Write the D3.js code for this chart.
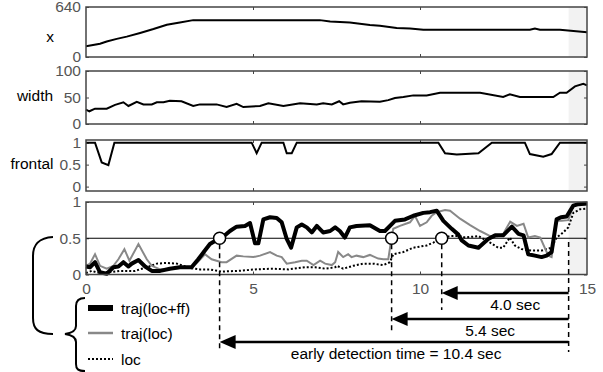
<!DOCTYPE html>
<html>
<head>
<meta charset="utf-8">
<script src="https://cdn.jsdelivr.net/npm/d3@7/dist/d3.min.js"></script>
<style>
  body { margin: 0; background: #fff; }
  svg { display: block; font-family: "Liberation Sans", Arial, sans-serif; }
  .tick text { fill: #555; font-size: 15.5px; }
  .tick line { stroke: #444; }
  .domain { display: none; }
</style>
</head>
<body>
<div id="chart"></div>
<script>
// x axis ticks (seconds)
var timeTicks = [0, 5, 10, 15];

// panel 1 : x position of the face
var posT = [0, 0.42, 0.62, 0.92, 1.22, 1.62, 2.02, 2.42, 2.81, 3.21, 7.0, 7.31, 7.9, 8.5, 8.8, 9.3, 9.7, 10.1, 13.29, 13.44, 13.59, 14.19, 15];
var posV = [139, 169, 198, 232, 261, 308, 358, 413, 442, 472, 472, 455, 442, 409, 400, 371, 366, 350, 350, 366, 350, 350, 316];

// panel 2 : width
var widthT = [0, 0.1, 0.27, 0.62, 0.87, 1.12, 1.27, 1.52, 1.72, 1.97, 2.12, 2.32, 2.51, 2.86, 3.21, 3.41, 3.91, 4.21, 4.51, 4.71, 5.21, 5.46, 5.91, 6.41, 6.91, 7.1, 7.36, 7.58, 7.7, 7.9, 8.25, 8.8, 9.05, 9.25, 9.5, 9.8, 10.2, 10.6, 11.8, 12.49, 12.69, 12.99, 13.99, 14.19, 14.39, 14.64, 14.89, 15];
var widthV = [27, 24, 29, 29, 36, 41, 34, 42, 37, 37, 41, 41, 44, 43, 34, 37, 37, 32, 38, 32, 34, 39, 34, 39, 37, 39, 37, 43, 37, 40, 43, 42, 45, 49, 51, 54, 54, 59, 59, 51, 56, 51, 51, 59, 59, 71, 76, 73];

// panel 3 : frontal
var frontalT = [0, 0.27, 0.47, 0.67, 0.85, 4.96, 5.11, 5.26, 5.91, 6.01, 6.16, 6.31, 10.55, 10.75, 11.1, 11.75, 12.15, 13.14, 13.29, 13.69, 13.94, 14.19, 15];
var frontalV = [1, 1, 0.55, 0.49, 1, 1, 0.76, 1, 1, 0.76, 0.76, 1, 1, 0.76, 0.73, 0.76, 1, 1, 0.74, 0.68, 0.74, 1, 1];

// panel 4 : traj(loc+ff)
var trajFfT = [0, 0.12, 0.27, 0.42, 0.62, 0.82, 0.97, 1.12, 1.27, 1.37, 1.57, 1.77, 1.97, 2.22, 2.51, 2.81, 3.16, 3.36, 3.56, 3.71, 3.96, 4.16, 4.31, 4.51, 4.76, 4.91, 5.06, 5.16, 5.31, 5.51, 5.71, 5.86, 6.01, 6.14, 6.31, 6.46, 6.61, 6.76, 6.91, 7.1, 7.31, 7.46, 7.6, 7.75, 7.9, 8.1, 8.5, 8.8, 8.95, 9.25, 9.55, 9.8, 10.1, 10.3, 10.5, 10.7, 10.95, 11.15, 11.25, 11.45, 11.75, 12.04, 12.25, 12.49, 12.75, 12.95, 13.1, 13.24, 13.44, 13.64, 13.79, 13.94, 14.09, 14.22, 14.39, 14.59, 14.74, 15];
var trajFfV = [0.11, 0.10, 0.17, 0.03, 0.01, 0.10, 0.11, 0.17, 0.11, 0.15, 0.20, 0.11, 0.05, 0.05, 0.08, 0.10, 0.10, 0.21, 0.33, 0.42, 0.49, 0.54, 0.60, 0.66, 0.67, 0.71, 0.43, 0.43, 0.76, 0.79, 0.78, 0.72, 0.49, 0.37, 0.65, 0.69, 0.65, 0.58, 0.67, 0.58, 0.60, 0.65, 0.60, 0.51, 0.65, 0.67, 0.68, 0.60, 0.60, 0.74, 0.76, 0.81, 0.85, 0.86, 0.88, 0.74, 0.63, 0.55, 0.47, 0.40, 0.37, 0.49, 0.54, 0.54, 0.66, 0.56, 0.54, 0.28, 0.26, 0.24, 0.26, 0.31, 0.76, 0.79, 0.80, 0.95, 0.97, 0.98];

// panel 4 : traj(loc)
var trajT = [0, 0.12, 0.27, 0.42, 0.62, 0.82, 0.97, 1.15, 1.3, 1.57, 1.82, 1.97, 2.22, 2.51, 2.81, 3.16, 3.36, 3.56, 3.76, 4.06, 4.21, 4.51, 4.71, 5.01, 5.21, 5.51, 5.71, 5.86, 6.01, 6.26, 6.46, 6.61, 6.81, 7.01, 7.16, 7.36, 7.46, 7.55, 7.7, 7.85, 7.95, 8.1, 8.3, 8.5, 8.75, 8.9, 9.05, 9.15, 9.2, 9.4, 9.7, 9.85, 10.0, 10.2, 10.35, 10.5, 10.75, 10.9, 11.2, 11.5, 11.8, 12.1, 12.3, 12.49, 12.7, 12.9, 13.1, 13.24, 13.44, 13.6, 13.84, 13.94, 14.09, 14.24, 14.44, 14.59, 14.74, 15];
var trajV = [0.12, 0.15, 0.28, 0.12, 0.08, 0.12, 0.21, 0.35, 0.19, 0.42, 0.21, 0.12, 0.07, 0.08, 0.09, 0.09, 0.18, 0.28, 0.21, 0.17, 0.17, 0.26, 0.25, 0.24, 0.26, 0.31, 0.26, 0.24, 0.15, 0.17, 0.19, 0.19, 0.13, 0.19, 0.15, 0.13, 0.17, 0.31, 0.24, 0.28, 0.24, 0.26, 0.24, 0.27, 0.22, 0.21, 0.21, 0.51, 0.63, 0.67, 0.72, 0.81, 0.67, 0.72, 0.81, 0.86, 0.89, 0.88, 0.77, 0.68, 0.60, 0.53, 0.52, 0.56, 0.73, 0.67, 0.70, 0.51, 0.53, 0.51, 0.26, 0.24, 0.74, 0.74, 0.75, 0.95, 0.96, 0.97];

// panel 4 : loc
var locT = [0, 0.17, 0.32, 0.52, 1.0, 1.47, 1.82, 2.12, 2.42, 2.72, 2.91, 3.11, 3.41, 3.71, 4.06, 4.56, 5.06, 5.56, 6.06, 6.56, 6.86, 7.16, 7.46, 7.51, 7.7, 8.0, 8.3, 8.6, 8.9, 9.1, 9.2, 9.5, 9.8, 10.2, 10.4, 10.65, 10.9, 11.2, 11.35, 11.75, 12.1, 12.34, 12.49, 12.69, 12.84, 13.04, 13.34, 13.64, 13.94, 14.09, 14.29, 14.44, 14.59, 14.79, 15];
var locV = [0.02, 0.05, 0.03, 0.02, 0.05, 0.05, 0.10, 0.15, 0.16, 0.15, 0.12, 0.09, 0.07, 0.07, 0.04, 0.05, 0.07, 0.08, 0.07, 0.10, 0.10, 0.08, 0.10, 0.12, 0.08, 0.12, 0.15, 0.15, 0.13, 0.17, 0.28, 0.31, 0.37, 0.40, 0.44, 0.50, 0.53, 0.53, 0.51, 0.53, 0.44, 0.37, 0.37, 0.51, 0.40, 0.35, 0.33, 0.33, 0.37, 0.51, 0.58, 0.65, 0.85, 0.90, 0.91];

// detection times (loc+ff, loc, ...) and the alarm time
var detectT = [4.0, 9.15, 10.65];
var alarmT = 14.45;
var threshold = 0.5;
var arrowLabels = ["early detection time = 10.4 sec", "5.4 sec", "4.0 sec"];
var legendLabels = ["traj(loc+ff)", "traj(loc)", "loc"];

var width = 603, height = 372;

var svg = d3.select("#chart")
    .append("svg")
    .attr("width", width)
    .attr("height", height);

var x = d3.scaleLinear().domain([0, 15]).range([86, 587]);

function zip(ts, vs){
    return ts.map(function(t, i){ return [t, vs[i]]; });
}

//Panel layout
var panels = [
    {top: 7, bottom: 57, domain: [0, 640], ticks: [0, 640], fmt: d3.format("d"), label: "x", lx: 50, ly: 36},
    {top: 71, bottom: 124, domain: [0, 100], ticks: [0, 50, 100], fmt: d3.format("d"), label: "width", lx: 35, ly: 95},
    {top: 140, bottom: 191, domain: [-0.1, 1.06], ticks: [0, 0.5, 1], fmt: d3.format("~g"), label: "frontal", lx: 32, ly: 163},
    {top: 202, bottom: 274.5, domain: [0, 1], ticks: [0, 0.5, 1], fmt: d3.format("~g"), label: null}
];

panels.forEach(function(p){
    p.y = d3.scaleLinear().domain(p.domain).range([p.bottom, p.top]);
    var g = svg.append("g");
    //alarm region
    g.append("rect")
        .attr("x", x(alarmT))
        .attr("y", p.top)
        .attr("width", x(15) - x(alarmT))
        .attr("height", p.bottom - p.top)
        .attr("fill", "#f2f2f2");
    //left axis with labels
    g.append("g")
        .attr("transform", "translate(" + x(0) + ",0)")
        .call(d3.axisLeft(p.y).tickValues(p.ticks).tickSize(-3).tickPadding(5).tickFormat(p.fmt));
    //right axis ticks only
    g.append("g")
        .attr("transform", "translate(" + x(15) + ",0)")
        .call(d3.axisRight(p.y).tickValues(p.ticks).tickSize(-3).tickFormat(""));
    //top and bottom ticks
    g.append("g")
        .attr("transform", "translate(0," + p.top + ")")
        .call(d3.axisTop(x).tickValues([5, 10]).tickSize(-3).tickFormat(""));
    g.append("g")
        .attr("transform", "translate(0," + p.bottom + ")")
        .call(d3.axisBottom(x).tickValues([5, 10]).tickSize(-3).tickFormat(""));
    if( p.label ){
        g.append("text")
            .attr("x", p.lx)
            .attr("y", p.ly)
            .attr("text-anchor", "middle")
            .attr("dominant-baseline", "central")
            .style("font-size", "15.5px")
            .text(p.label);
    }
    p.g = g;
});

var line = function(p){
    return d3.line()
        .x(function(d){ return x(d[0]); })
        .y(function(d){ return p.y(d[1]); });
};

panels[0].g.append("path").datum(zip(posT, posV))
    .attr("d", line(panels[0])).attr("fill", "none").attr("stroke", "#000").attr("stroke-width", 2);
panels[1].g.append("path").datum(zip(widthT, widthV))
    .attr("d", line(panels[1])).attr("fill", "none").attr("stroke", "#000").attr("stroke-width", 2);
panels[2].g.append("path").datum(zip(frontalT, frontalV))
    .attr("d", line(panels[2])).attr("fill", "none").attr("stroke", "#000").attr("stroke-width", 2);

//Bottom panel
var p4 = panels[3];
p4.g.append("line")
    .attr("x1", x(0)).attr("x2", x(15))
    .attr("y1", p4.y(threshold)).attr("y2", p4.y(threshold))
    .attr("stroke", "#000").attr("stroke-width", 1.2);

p4.g.append("path").datum(zip(locT, locV))
    .attr("d", line(p4)).attr("fill", "none").attr("stroke", "#000")
    .attr("stroke-width", 2).attr("stroke-dasharray", "2,2");
p4.g.append("path").datum(zip(trajT, trajV))
    .attr("d", line(p4)).attr("fill", "none").attr("stroke", "#888").attr("stroke-width", 2);
p4.g.append("path").datum(zip(trajFfT, trajFfV))
    .attr("d", line(p4)).attr("fill", "none").attr("stroke", "#000")
    .attr("stroke-width", 4).attr("stroke-linejoin", "round");

//x axis labels
p4.g.append("g")
    .attr("transform", "translate(0," + p4.bottom + ")")
    .call(d3.axisBottom(x).tickValues(timeTicks).tickSize(0).tickPadding(8).tickFormat(d3.format("d")));

//Frames
panels.forEach(function(p){
    p.g.append("rect")
        .attr("x", x(0)).attr("y", p.top)
        .attr("width", x(15) - x(0)).attr("height", p.bottom - p.top)
        .attr("fill", "none").attr("stroke", "#444").attr("stroke-width", 1.5);
});

//Arrows to detections
var arrowY = [342, 319, 293];
var dashEnd = [350, 332, 310];
var ann = svg.append("g");
detectT.forEach(function(t, i){
    var xt = x(t), xe = x(alarmT), ay = arrowY[i];
    ann.append("line")
        .attr("x1", xt).attr("x2", xt)
        .attr("y1", p4.y(threshold) + 6).attr("y2", dashEnd[i])
        .attr("stroke", "#000").attr("stroke-width", 1.5).attr("stroke-dasharray", "5,4");
    ann.append("line")
        .attr("x1", xt + 10).attr("x2", xe)
        .attr("y1", ay).attr("y2", ay)
        .attr("stroke", "#000").attr("stroke-width", 2.5);
    ann.append("path")
        .attr("d", "M" + xt + "," + ay + "L" + (xt + 16) + "," + (ay - 7) + "L" + (xt + 16) + "," + (ay + 7) + "Z")
        .attr("fill", "#000");
    ann.append("text")
        .attr("x", (xt + xe) / 2 + (i === 0 ? 2 : 10))
        .attr("y", ay + 17)
        .attr("text-anchor", "middle")
        .style("font-size", "15.5px")
        .text(arrowLabels[i]);
});
ann.append("line")
    .attr("x1", x(alarmT)).attr("x2", x(alarmT))
    .attr("y1", 242).attr("y2", 352)
    .attr("stroke", "#000").attr("stroke-width", 1.5).attr("stroke-dasharray", "5,4");

//Detection circles
p4.g.selectAll("circle")
    .data(detectT)
    .enter()
    .append("circle")
    .attr("cx", function(d){ return x(d); })
    .attr("cy", p4.y(threshold))
    .attr("r", 6)
    .attr("fill", "#fff")
    .attr("stroke", "#000")
    .attr("stroke-width", 1.5);

//Bracket from the bottom panel to the legend
svg.append("path")
    .attr("d", "M53,237 C38,238 33,245 33,256 L33,318 C33,329 38,334 53,334")
    .attr("fill", "none").attr("stroke", "#000").attr("stroke-width", 2);

//Legend brace
svg.append("path")
    .attr("d", "M85,298 C78,298 76,301 76,306 L76,326 C76,331 72,333 65,334 C72,335 76,337 76,342 L76,364 C76,369 78,371 85,371")
    .attr("fill", "none").attr("stroke", "#000").attr("stroke-width", 2);

var legendStyles = [
    {stroke: "#000", width: 6, dash: null},
    {stroke: "#888", width: 2.5, dash: null},
    {stroke: "#000", width: 2, dash: "2,2"}
];
var legendY = [308, 333, 359];
legendLabels.forEach(function(l, i){
    var s = legendStyles[i];
    svg.append("line")
        .attr("x1", 88).attr("x2", 113)
        .attr("y1", legendY[i]).attr("y2", legendY[i])
        .attr("stroke", s.stroke).attr("stroke-width", s.width)
        .attr("stroke-dasharray", s.dash);
    svg.append("text")
        .attr("x", 121).attr("y", legendY[i])
        .attr("dominant-baseline", "central")
        .style("font-size", "15.5px")
        .text(l);
});
</script>
</body>
</html>
